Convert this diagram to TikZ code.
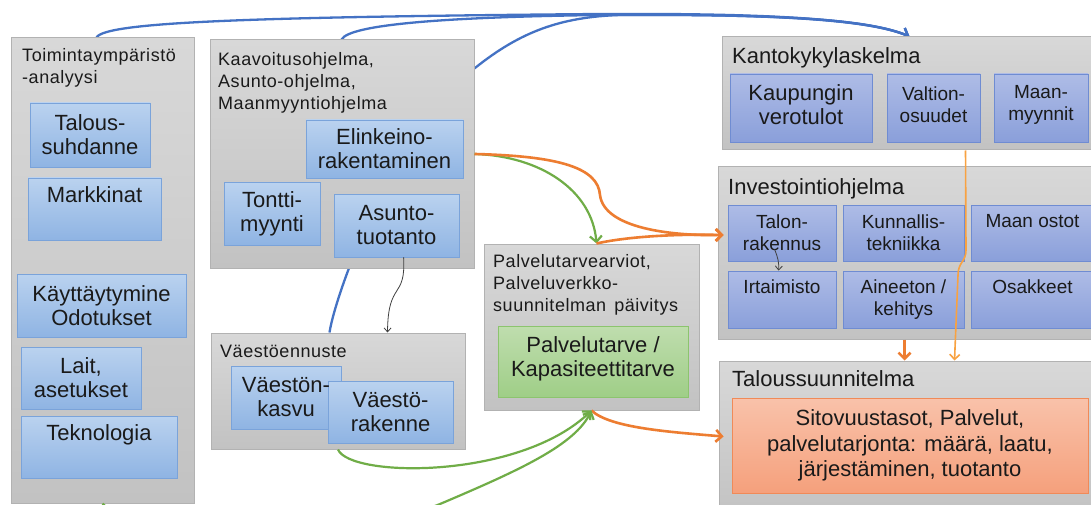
\documentclass[tikz,border=0pt]{standalone}
\usepackage{fontspec}
\setmainfont{Liberation Sans}
\newfontfamily\spacedfont[LetterSpace=3]{Liberation Sans}
\usetikzlibrary{fit,arrows.meta,backgrounds}

\definecolor{gtop}{HTML}{D8D8D8}
\definecolor{gbot}{HTML}{C2C2C2}
\definecolor{gbrd}{HTML}{B2B2B2}
\definecolor{btop}{HTML}{BAD2EF}
\definecolor{bbot}{HTML}{8FB4E3}
\definecolor{bbrd}{HTML}{7AA3DA}
\definecolor{ptop}{HTML}{AEBCE6}
\definecolor{pbot}{HTML}{8A9FDA}
\definecolor{pbrd}{HTML}{6F8CD2}
\definecolor{grtop}{HTML}{BFDDAE}
\definecolor{grbot}{HTML}{9FCE87}
\definecolor{grbrd}{HTML}{8CC46E}
\definecolor{otop}{HTML}{F9C2AA}
\definecolor{obot}{HTML}{F5A07C}
\definecolor{obrd}{HTML}{F08A58}
\definecolor{lblue}{HTML}{4472C4}
\definecolor{lorange}{HTML}{ED7D31}
\definecolor{lorangeb}{HTML}{F8A242}
\definecolor{lgreen}{HTML}{70AD47}
\definecolor{txt}{HTML}{1A1A1A}

\tikzset{
  cont/.style={draw=gbrd, line width=1pt, top color=gtop, bottom color=gbot, inner sep=0pt},
  bbox/.style={draw=bbrd, line width=0.8pt, top color=btop, bottom color=bbot, inner sep=0pt},
  pbox/.style={draw=pbrd, line width=0.8pt, top color=ptop, bottom color=pbot, inner sep=0pt},
  grbox/.style={draw=grbrd, line width=0.8pt, top color=grtop, bottom color=grbot, inner sep=0pt},
  obox/.style={draw=obrd, line width=0.8pt, top color=otop, bottom color=obot, inner sep=0pt},
  ttl/.style={inner sep=0pt, anchor=north west, align=left, text=txt, font=\spacedfont\fontsize{18}{22}\selectfont},
  ttlbig/.style={inner sep=0pt, anchor=north west, align=left, text=txt, font=\fontsize{22}{26}\selectfont},
  btxt/.style={inner sep=0pt, align=center, text=txt, font=\fontsize{22}{24}\selectfont},
  stxt/.style={inner sep=0pt, align=center, text=txt, font=\fontsize{19}{22}\selectfont},
  sitotxt/.style={inner sep=0pt, align=center, text=txt, font=\fontsize{22}{25.5}\selectfont},
  tipa/.style={-{Straight Barb[length=6pt,width=12pt]}},
  blu/.style={draw=lblue, line width=2.3pt, tipa},
  org/.style={draw=lorange, line width=2.6pt, tipa},
  orgb/.style={draw=lorangeb, line width=1.6pt, -{Straight Barb[length=5pt,width=10pt]}},
  grn/.style={draw=lgreen, line width=2.2pt, tipa},
  blk/.style={draw=black!75, line width=0.8pt, -{Straight Barb[length=4pt,width=7pt]}},
}

\begin{document}
\begin{tikzpicture}[x=1pt,y=-1pt]
\useasboundingbox (0,0) rectangle (1091,505);
\clip (0,0) rectangle (1091,505);

% containers
\node[cont, fit={(11,38) (194,503)}] (toim) {};
\node[cont, fit={(210,40) (474,268)}] (kaav) {};
\node[cont, fit={(211,333) (465,449)}] (vaesto) {};
\node[cont, fit={(484,244) (699,410)}] (palv) {};
\node[cont, fit={(722,37) (1100,150)}] (kanto) {};
\node[cont, fit={(718,167) (1100,339)}] (inv) {};
\node[cont, fit={(719,361) (1100,520)}] (talous) {};

% inner boxes
\node[bbox, fit={(30,103) (150,167)}] (talsuh) {};
\node[bbox, fit={(28,178) (161,240)}] (mark) {};
\node[bbox, fit={(17,274) (186,337)}] (kayt) {};
\node[bbox, fit={(21,347) (141,409)}] (lait) {};
\node[bbox, fit={(21,416) (177,478)}] (tekno) {};
\node[bbox, fit={(306,120) (463,178)}] (elink) {};
\node[bbox, fit={(224,182) (320,245)}] (tontti) {};
\node[bbox, fit={(334,194) (459,257)}] (asunto) {};
\node[bbox, fit={(231,366) (341,429)}] (vkasvu) {};
\node[bbox, fit={(328,381) (453,443)}] (vrak) {};
\node[grbox, fit={(498,326) (688,397)}] (palvbox) {};
\node[pbox, fit={(730,74) (872,142)}] (kaup) {};
\node[pbox, fit={(887,74) (980,142)}] (valt) {};
\node[pbox, fit={(994,74) (1088,142)}] (maan) {};
\node[pbox, fit={(728,205) (836,261)}] (talon) {};
\node[pbox, fit={(843,205) (964,261)}] (kunn) {};
\node[pbox, fit={(971,205) (1100,261)}] (maanost) {};
\node[pbox, fit={(728,271) (836,328)}] (irt) {};
\node[pbox, fit={(843,271) (964,328)}] (ain) {};
\node[pbox, fit={(971,271) (1100,328)}] (osak) {};
\node[obox, fit={(732,398) (1088,493)}] (sito) {};

% titles
\node[ttl] (toimT) at (22,48) {Toimintaympäristö\\-analyysi};
\node[ttl] (kaavT) at (218,52) {Kaavoitusohjelma,\\Asunto-ohjelma,\\Maanmyyntiohjelma};
\node[ttl] (vaestoT) at (220,345) {Väestöennuste};
\node[ttl] (palvT) at (493,254) {Palvelutarvearviot,\\Palveluverkko-\\suunnitelman\hspace{0.45em}päivitys};
\node[ttlbig] (kantoT) at (732,47) {Kantokykylaskelma};
\node[ttlbig] (invT) at (728,178) {Investointiohjelma};
\node[ttlbig] (talousT) at (732,370) {Taloussuunnitelma};

% inner texts
\node[btxt] (talsuhT) at (talsuh.center) {Talous-\\suhdanne};
\node[btxt, anchor=north] (markT) at ([yshift=-9pt]mark.north) {Markkinat};
\node[btxt] (kaytT) at (kayt.center) {Käyttäytymine\\Odotukset};
\node[btxt] (laitT) at (lait.center) {Lait,\\asetukset};
\node[btxt, anchor=north] (teknoT) at ([yshift=-9pt]tekno.north) {Teknologia};
\node[btxt] (elinkT) at (elink.center) {Elinkeino-\\rakentaminen};
\node[btxt] (tonttiT) at (tontti.center) {Tontti-\\myynti};
\node[btxt] (asuntoT) at (asunto.center) {Asunto-\\tuotanto};
\node[btxt] (vkasvuT) at (vkasvu.center) {Väestön-\\kasvu};
\node[btxt] (vrakT) at (vrak.center) {Väestö-\\rakenne};
\node[btxt] (palvboxT) at ([yshift=3pt]palvbox.center) {Palvelutarve /\\Kapasiteettitarve};
\node[btxt] (kaupT) at ([yshift=3pt]kaup.center) {Kaupungin\\verotulot};
\node[stxt] (valtT) at ([yshift=3pt]valt.center) {Valtion-\\osuudet};
\node[stxt] (maanT) at ([yshift=3pt]maan.center) {Maan-\\myynnit};
\node[stxt] (talonT) at (talon.center) {Talon-\\rakennus};
\node[stxt] (kunnT) at (kunn.center) {Kunnallis-\\tekniikka};
\node[stxt, anchor=north] (maanostT) at ([yshift=-10pt,xshift=-3pt]maanost.north) {Maan ostot};
\node[stxt, anchor=north] (irtT) at ([yshift=-9pt]irt.north) {Irtaimisto};
\node[stxt, anchor=north] (ainT) at ([yshift=-9pt]ain.north) {Aineeton /\\kehitys};
\node[stxt, anchor=north] (osakT) at ([yshift=-9pt,xshift=-3pt]osak.north) {Osakkeet};
\node[sitotxt] (sitoT) at (sito.center) {Sitovuustasot, Palvelut,\\palvelutarjonta: määrä, laatu,\\järjestäminen, tuotanto};

% blue connectors behind the boxes
\begin{scope}[on background layer]
\fill[white] (0,0) rectangle (1091,505);
\draw[blu] ([xshift=86pt]toim.north west) .. controls (105,22) and (250,17) .. (600,14)
   .. controls (780,13) and (870,20) .. ([xshift=188pt]kanto.north west);
\draw[blu] ([xshift=132pt]kaav.north west) .. controls (350,24) and (450,17) .. (600,15)
   .. controls (780,14) and (868,19) .. ([xshift=188pt]kanto.north west);
\draw[blu] ([xshift=119pt]vaesto.north west) .. controls (336,290) and (400,120) .. (475,68)
   .. controls (520,32) and (560,17) .. (620,15)
   .. controls (790,14) and (872,21) .. ([xshift=188pt]kanto.north west);
\end{scope}

% other connectors
\draw[grn] (kaav.east) .. controls (540,156) and (592,190) .. ([xshift=113pt]palv.north west);
\draw[org] (kaav.east) .. controls (560,156) and (598,168) .. (600,195)
   .. controls (604,228) and (670,236) .. ([xshift=-4pt,yshift=-2pt]talon.west);
\draw[org] ([xshift=113pt]palv.north west) .. controls (630,236) and (680,234) .. ([xshift=-4pt,yshift=-2pt]talon.west);
\draw[org] (palv.south) .. controls (610,428) and (670,432) .. ([xshift=-8pt,yshift=9pt]sito.west);
\draw[org] ([xshift=187pt]inv.south west) -- ([xshift=186pt]talous.north west);
\draw[orgb] ([xshift=244pt]kanto.south west) -- (966,250) .. controls (966,262) and (958,262) .. (958,275)
   -- ([xshift=236pt]talous.north west);
\draw[grn] (vaesto.south) .. controls (350,478) and (520,480) .. (palv.south);
\draw[grn] (toim.south) .. controls (140,545) and (380,530) .. (440,504)
   .. controls (520,470) and (575,445) .. (palv.south);
\draw[blk] ([xshift=70pt]asunto.south west) .. controls (406,300) and (388,280) .. ([xshift=177pt]vaesto.north west);
\draw[blk] ([xshift=47pt,yshift=12pt]talon.south west) .. controls (778,258) and (779,262) .. ([xshift=51pt]irt.north west);
\end{tikzpicture}
\end{document}
